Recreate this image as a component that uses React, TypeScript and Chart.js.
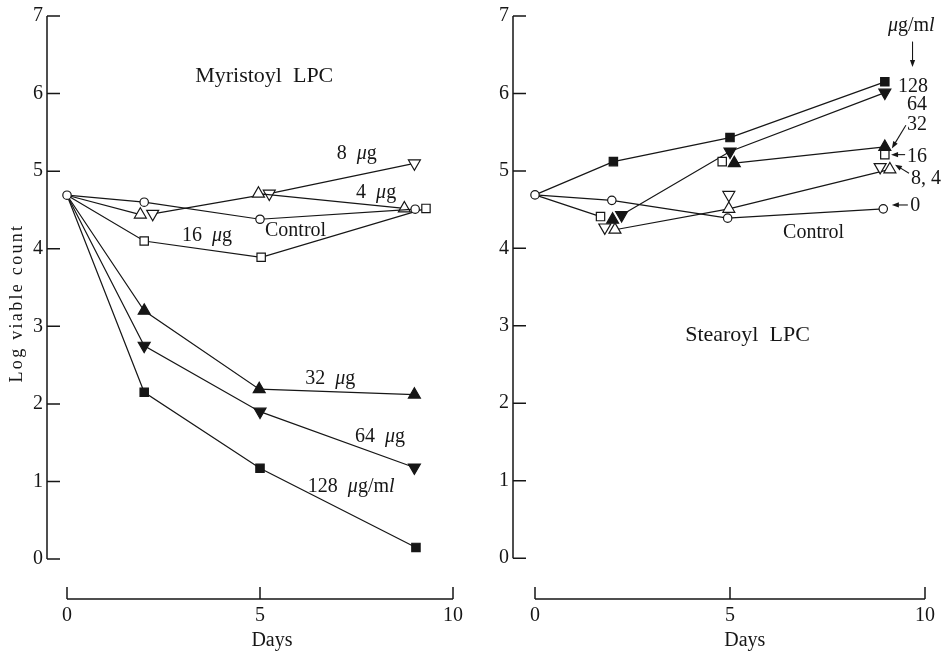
import React, { useEffect, useRef } from 'react';
import { Chart, registerables } from 'chart.js';

Chart.register(...registerables);

// ---------- data ----------
const dayTicks = [0, 5, 10];
const logTicks = [0, 1, 2, 3, 4, 5, 6, 7];

// Myristoyl LPC (x = days, y = log viable count)
const myrControl = [{ x: 0, y: 4.69 }, { x: 2, y: 4.6 }, { x: 5, y: 4.38 }, { x: 9.02, y: 4.51 }];
const myr4 = [{ x: 0, y: 4.69 }, { x: 1.9, y: 4.44 }, { x: 4.96, y: 4.71 }, { x: 8.74, y: 4.52 }];
const myr8 = [{ x: 0, y: 4.69 }, { x: 2.22, y: 4.45 }, { x: 5.24, y: 4.71 }, { x: 9, y: 5.1 }];
const myr16 = [{ x: 0, y: 4.69 }, { x: 2, y: 4.1 }, { x: 5.03, y: 3.89 }, { x: 9.3, y: 4.52 }];
const myr32 = [{ x: 0, y: 4.69 }, { x: 2, y: 3.2 }, { x: 4.98, y: 2.19 }, { x: 9, y: 2.12 }];
const myr64 = [{ x: 0, y: 4.69 }, { x: 2, y: 2.75 }, { x: 5, y: 1.9 }, { x: 9, y: 1.18 }];
const myr128 = [{ x: 0, y: 4.69 }, { x: 2, y: 2.15 }, { x: 5, y: 1.17 }, { x: 9.04, y: 0.15 }];

// Stearoyl LPC
const steControl = [{ x: 0, y: 4.69 }, { x: 1.97, y: 4.62 }, { x: 4.94, y: 4.39 }, { x: 8.93, y: 4.51 }];
const ste128 = [{ x: 0, y: 4.69 }, { x: 2.01, y: 5.12 }, { x: 5, y: 5.43 }, { x: 8.97, y: 6.15 }];
const ste64 = [{ x: 0, y: 4.69 }, { x: 2.22, y: 4.43 }, { x: 5, y: 5.25 }, { x: 8.97, y: 6.01 }];
const ste32 = [{ x: 0, y: 4.69 }, { x: 1.99, y: 4.37 }, { x: 5.11, y: 5.1 }, { x: 8.97, y: 5.31 }];
const ste16 = [{ x: 0, y: 4.69 }, { x: 1.68, y: 4.41 }, { x: 4.8, y: 5.12 }, { x: 8.97, y: 5.21 }];
const ste8 = [{ x: 0, y: 4.69 }, { x: 1.79, y: 4.27 }, { x: 4.97, y: 4.69 }, { x: 8.85, y: 5.05 }];
const ste4 = [{ x: 0, y: 4.69 }, { x: 2.05, y: 4.24 }, { x: 4.97, y: 4.51 }, { x: 9.1, y: 5.02 }];

// ---------- styling ----------
const FONT = 'Liberation Serif';
const INK = '#161616';
const H = 653;

type Pt = { x: number; y: number };
type Series = { data: Pt[]; shape: 'circle' | 'up' | 'down' | 'rect'; filled: boolean; origin?: boolean; hide?: number[] };
type Label = { text: string; x: number; y: number; size?: number };
type Arrow = { from: [number, number]; to: [number, number] };
type Layout = { width: number; axisX: number; zeroX: number; tenX: number; topY: number; zeroY: number; baseY: number };

const leftSeries: Series[] = [
  { data: myrControl, shape: 'circle', filled: false, origin: true },
  { data: myr4, shape: 'up', filled: false, hide: [1] },
  { data: myr8, shape: 'down', filled: false, hide: [0] },
  { data: myr16, shape: 'rect', filled: false },
  { data: myr32, shape: 'up', filled: true },
  { data: myr64, shape: 'down', filled: true },
  { data: myr128, shape: 'rect', filled: true },
];

const rightSeries: Series[] = [
  { data: steControl, shape: 'circle', filled: false, origin: true },
  { data: ste16, shape: 'rect', filled: false, hide: [1, 2] },
  { data: ste8, shape: 'down', filled: false, hide: [0, 1, 2] },
  { data: ste4, shape: 'up', filled: false, hide: [0] },
  { data: ste32, shape: 'up', filled: true, hide: [0, 1] },
  { data: ste64, shape: 'down', filled: true, hide: [0] },
  { data: ste128, shape: 'rect', filled: true },
];

const leftLabels: Label[] = [
  { text: 'Myristoyl  LPC', x: 3.32, y: 6.15, size: 22 },
  { text: '8  μg', x: 6.99, y: 5.16 },
  { text: '4  μg', x: 7.49, y: 4.66 },
  { text: '16  μg', x: 2.98, y: 4.1 },
  { text: 'Control', x: 5.13, y: 4.17 },
  { text: '32  μg', x: 6.17, y: 2.26 },
  { text: '64  μg', x: 7.46, y: 1.51 },
  { text: '128  μg/ml', x: 6.24, y: 0.86 },
];

const rightLabels: Label[] = [
  { text: 'μg/ml', x: 9.05, y: 6.8 },
  { text: '128', x: 9.31, y: 6.02 },
  { text: '64', x: 9.54, y: 5.78 },
  { text: '32', x: 9.54, y: 5.53 },
  { text: '16', x: 9.54, y: 5.12 },
  { text: '8, 4', x: 9.64, y: 4.83 },
  { text: '0', x: 9.62, y: 4.48 },
  { text: 'Control', x: 6.36, y: 4.14 },
  { text: 'Stearoyl  LPC', x: 3.85, y: 2.81, size: 22 },
];

const rightArrows: Arrow[] = [
  { from: [9.68, 6.67], to: [9.68, 6.34] },
  { from: [9.51, 5.59], to: [9.15, 5.29] },
  { from: [9.49, 5.21], to: [9.13, 5.21] },
  { from: [9.59, 4.97], to: [9.23, 5.08] },
  { from: [9.56, 4.56], to: [9.15, 4.56] },
];

const leftLayout: Layout = { width: 474, axisX: 47, zeroX: 67, tenX: 453, topY: 15, zeroY: 559, baseY: 599 };
const rightLayout: Layout = { width: 474, axisX: 39, zeroX: 61, tenX: 451, topY: 14, zeroY: 558, baseY: 599 };

// ---------- helpers ----------
function drawRich(ctx: CanvasRenderingContext2D, text: string, x: number, y: number, size: number) {
  const runs: { t: string; it: boolean }[] = [];
  for (let i = 0; i < text.length; i++) {
    const c = text[i];
    const it = c === 'μ' || (c === 'l' && text[i - 1] === 'm');
    const last = runs[runs.length - 1];
    if (last && last.it === it) last.t += c;
    else runs.push({ t: c, it });
  }
  let cx = x;
  ctx.textAlign = 'left';
  ctx.textBaseline = 'alphabetic';
  for (const r of runs) {
    ctx.font = `${r.it ? 'italic ' : ''}${size}px "${FONT}"`;
    ctx.fillText(r.t, cx, y);
    cx += ctx.measureText(r.t).width;
  }
}

function makeDataset(s: Series) {
  const r = s.shape === 'circle' ? 4.2 : s.shape === 'rect' ? 5.9 : 6.9;
  const hide = s.hide || [];
  return {
    data: s.data,
    borderColor: INK,
    borderWidth: 1.2,
    fill: false,
    tension: 0,
    pointStyle: s.shape === 'circle' ? 'circle' : s.shape === 'rect' ? 'rect' : 'triangle',
    pointRotation: s.shape === 'down' ? 180 : 0,
    pointRadius: (c: any) => (c.dataIndex === 0 && !s.origin ? 0 : r),
    pointHoverRadius: (c: any) => (c.dataIndex === 0 && !s.origin ? 0 : r),
    pointBackgroundColor: s.filled ? INK : '#ffffff',
    pointBorderColor: INK,
    pointBorderWidth: 1.2,
    segment: {
      borderColor: (c: any) => (hide.includes(c.p0DataIndex) ? 'rgba(0,0,0,0)' : INK),
    },
  };
}

function makeDecor(opts: { labels: Label[]; arrows: Arrow[]; yTitle: boolean; daysX: number }) {
  return {
    id: 'decor',
    beforeDatasetsDraw(chart: any) {
      const { ctx, chartArea, scales } = chart;
      const x = scales.x;
      const y = scales.y;
      ctx.save();
      ctx.strokeStyle = INK;
      ctx.lineWidth = 1.5;
      const ax = chartArea.left;
      ctx.beginPath();
      ctx.moveTo(ax, y.getPixelForValue(7));
      ctx.lineTo(ax, y.getPixelForValue(0));
      for (const v of logTicks) {
        const py = y.getPixelForValue(v);
        ctx.moveTo(ax, py);
        ctx.lineTo(ax + 13, py);
      }
      const by = chartArea.bottom;
      ctx.moveTo(x.getPixelForValue(0), by);
      ctx.lineTo(x.getPixelForValue(10), by);
      for (const v of dayTicks) {
        const px = x.getPixelForValue(v);
        ctx.moveTo(px, by);
        ctx.lineTo(px, by - 12);
      }
      ctx.stroke();
      ctx.restore();
    },
    afterDatasetsDraw(chart: any) {
      const { ctx, chartArea, scales } = chart;
      const x = scales.x;
      const y = scales.y;
      ctx.save();
      ctx.fillStyle = INK;
      ctx.strokeStyle = INK;
      for (const l of opts.labels) {
        drawRich(ctx, l.text, x.getPixelForValue(l.x), y.getPixelForValue(l.y), l.size || 20);
      }
      ctx.lineWidth = 1.1;
      for (const a of opts.arrows) {
        const x1 = x.getPixelForValue(a.from[0]);
        const y1 = y.getPixelForValue(a.from[1]);
        const x2 = x.getPixelForValue(a.to[0]);
        const y2 = y.getPixelForValue(a.to[1]);
        const ang = Math.atan2(y2 - y1, x2 - x1);
        const hl = 7;
        const hw = 2.6;
        ctx.beginPath();
        ctx.moveTo(x1, y1);
        ctx.lineTo(x2 - Math.cos(ang) * hl * 0.8, y2 - Math.sin(ang) * hl * 0.8);
        ctx.stroke();
        ctx.beginPath();
        ctx.moveTo(x2, y2);
        ctx.lineTo(x2 - Math.cos(ang) * hl - Math.sin(ang) * hw, y2 - Math.sin(ang) * hl + Math.cos(ang) * hw);
        ctx.lineTo(x2 - Math.cos(ang) * hl + Math.sin(ang) * hw, y2 - Math.sin(ang) * hl - Math.cos(ang) * hw);
        ctx.closePath();
        ctx.fill();
      }
      // x-axis title
      ctx.font = `20px "${FONT}"`;
      ctx.textAlign = 'center';
      ctx.textBaseline = 'alphabetic';
      ctx.fillText('Days', x.getPixelForValue(opts.daysX), chartArea.bottom + 47);
      // y-axis title
      if (opts.yTitle) {
        ctx.save();
        ctx.translate(22, y.getPixelForValue(3.3));
        ctx.rotate(-Math.PI / 2);
        ctx.font = `18px "${FONT}"`;
        try {
          (ctx as any).letterSpacing = '2.3px';
        } catch (e) {}
        ctx.textAlign = 'center';
        ctx.fillText('Log viable count', 0, 0);
        ctx.restore();
      }
      ctx.restore();
    },
  };
}

function buildConfig(series: Series[], L: Layout, decor: any) {
  const perDay = (L.tenX - L.zeroX) / 10;
  const perLog = (L.zeroY - L.topY) / 7;
  const xMin = -(L.zeroX - L.axisX) / perDay;
  const yMin = -(L.baseY - L.zeroY) / perLog;
  const tickFont = { family: FONT, size: 20 };
  return {
    type: 'line' as const,
    data: { datasets: series.map(makeDataset) },
    options: {
      responsive: false,
      animation: false as const,
      events: [],
      layout: { padding: { top: L.topY, right: L.width - L.tenX, left: 0, bottom: 0 } },
      plugins: { legend: { display: false }, tooltip: { enabled: false }, title: { display: false } },
      scales: {
        x: {
          type: 'linear' as const,
          min: xMin,
          max: 10,
          grid: { display: false, drawTicks: false },
          border: { display: false },
          ticks: { font: tickFont, color: INK, padding: 5, maxRotation: 0, autoSkip: false },
          afterBuildTicks: (s: any) => {
            s.ticks = dayTicks.map((v) => ({ value: v }));
          },
          afterFit: (s: any) => {
            s.height = H - L.baseY;
          },
        },
        y: {
          type: 'linear' as const,
          min: yMin,
          max: 7,
          grid: { display: false, drawTicks: false },
          border: { display: false },
          ticks: { font: tickFont, color: INK, padding: 4, autoSkip: false },
          afterBuildTicks: (s: any) => {
            s.ticks = logTicks.map((v) => ({ value: v }));
          },
          afterFit: (s: any) => {
            s.width = L.axisX;
          },
        },
      },
    },
    plugins: [decor],
  };
}

function Panel({ series, layout, labels, arrows, yTitle, daysX, left }: {
  series: Series[]; layout: Layout; labels: Label[]; arrows: Arrow[]; yTitle: boolean; daysX: number; left: number;
}) {
  const ref = useRef<HTMLCanvasElement | null>(null);
  useEffect(() => {
    if (!ref.current) return;
    const decor = makeDecor({ labels, arrows, yTitle, daysX });
    const chart = new Chart(ref.current, buildConfig(series, layout, decor) as any);
    return () => chart.destroy();
  }, []);
  return (
    <canvas
      ref={ref}
      width={layout.width}
      height={H}
      style={{ position: 'absolute', left, top: 0, width: layout.width, height: H, display: 'block' }}
    />
  );
}

export default function App() {
  return (
    <div style={{ position: 'absolute', left: 0, top: 0, width: 948, height: H, background: '#ffffff', overflow: 'hidden' }}>
      <Panel series={leftSeries} layout={leftLayout} labels={leftLabels} arrows={[]} yTitle={true} daysX={5.31} left={0} />
      <Panel series={rightSeries} layout={rightLayout} labels={rightLabels} arrows={rightArrows} yTitle={false} daysX={5.38} left={474} />
    </div>
  );
}
